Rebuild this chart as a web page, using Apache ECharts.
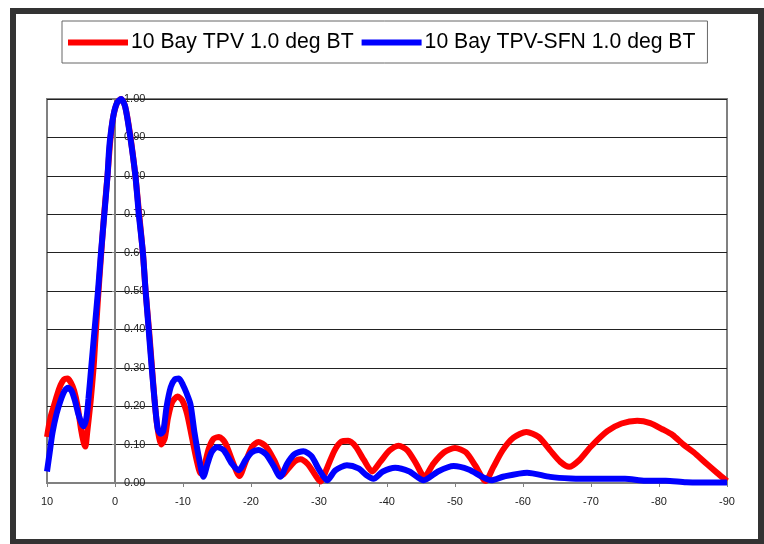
<!DOCTYPE html>
<html>
<head>
<meta charset="utf-8">
<script src="https://cdn.jsdelivr.net/npm/echarts@6/dist/echarts.min.js"></script>
<style>
html,body{margin:0;padding:0;background:#fff;}
#frame{position:absolute;left:10px;top:8px;width:754px;height:536px;box-sizing:border-box;border-style:solid;border-color:#333;border-width:6px 6px 5px 6px;pointer-events:none;z-index:2;}
#chart{position:absolute;left:0;top:0;width:764px;height:544px;}
</style>
</head>
<body>
<div id="chart"></div>
<div id="frame"></div>
<script>
// Angles (deg) and normalized response
const seriesNames = ['10 Bay TPV 1.0 deg BT', '10 Bay TPV-SFN 1.0 deg BT'];
const xTicks = [10, 0, -10, -20, -30, -40, -50, -60, -70, -80, -90];

const redX = [10, 9.5, 9, 8.5, 8, 7.5, 7, 6.5, 6, 5.5, 5, 4.6, 4.35, 4.1, 3.6, 3.15, 2.9, 2.5, 2.1, 1.6, 1.1, 0.7, 0.3, -0.3, -0.9, -1.5, -2.2, -3.0, -3.5, -4.1, -4.5, -5.0, -5.4, -5.8, -6.2, -6.8, -7.3, -7.8, -8.4, -9.2, -9.9, -10.6, -11.3, -12.0, -12.6, -13.2, -13.8, -14.5, -15.3, -16.2, -17.2, -18.3, -19.3, -20.2, -21.1, -22.2, -23.4, -24.6, -25.6, -26.5, -27.3, -28.3, -29.3, -30.2, -31.2, -32.3, -33.3, -34.3, -35.4, -36.6, -37.8, -39.0, -40.4, -41.7, -43.0, -44.3, -45.5, -46.8, -48.4, -50.0, -51.6, -53.0, -54.5, -55.6, -57.0, -58.6, -60.5, -62.3, -64.0, -65.5, -66.8, -68.3, -70.0, -72.4, -74.5, -76.8, -78.7, -80.5, -82.0, -83.6, -85.1, -87.0, -88.5, -90];
const redY = [0.12, 0.17, 0.20, 0.23, 0.255, 0.27, 0.272, 0.262, 0.24, 0.20, 0.14, 0.105, 0.095, 0.13, 0.21, 0.30, 0.37, 0.48, 0.58, 0.70, 0.80, 0.89, 0.95, 0.99, 1.00, 0.98, 0.91, 0.80, 0.71, 0.60, 0.50, 0.40, 0.31, 0.22, 0.15, 0.10, 0.115, 0.17, 0.21, 0.225, 0.215, 0.18, 0.12, 0.06, 0.025, 0.05, 0.09, 0.115, 0.12, 0.105, 0.06, 0.018, 0.06, 0.095, 0.107, 0.095, 0.06, 0.02, 0.04, 0.057, 0.062, 0.05, 0.025, 0.004, 0.04, 0.085, 0.108, 0.11, 0.095, 0.06, 0.03, 0.055, 0.085, 0.097, 0.085, 0.05, 0.016, 0.05, 0.08, 0.091, 0.08, 0.045, 0.005, 0.04, 0.085, 0.118, 0.133, 0.12, 0.085, 0.055, 0.042, 0.06, 0.095, 0.135, 0.155, 0.162, 0.156, 0.14, 0.125, 0.10, 0.08, 0.05, 0.027, 0.005];

const blueX = [10, 9.6, 9.2, 8.6, 8.0, 7.4, 6.9, 6.4, 5.9, 5.4, 4.9, 4.6, 4.2, 3.9, 3.5, 3.1, 2.5, 2.06, 1.57, 1.1, 0.9, 0.7, 0.2, -0.3, -0.9, -1.5, -2.25, -3.0, -3.5, -4.1, -4.5, -4.95, -5.4, -5.9, -6.3, -6.7, -7.1, -7.6, -8.2, -8.8, -9.4, -10.0, -10.5, -11.1, -11.7, -12.4, -13.0, -13.6, -14.2, -15.0, -16.0, -17.2, -18.2, -19.2, -20.1, -21.1, -22.2, -23.3, -24.3, -25.3, -26.4, -27.7, -28.9, -30.0, -31.2, -32.4, -34.1, -35.8, -37.0, -38.0, -39.4, -41.2, -43.3, -45.4, -47.5, -49.8, -52.0, -54.0, -55.3, -57.2, -60.6, -64.0, -67.0, -71.0, -75.0, -78.0, -81.0, -84.0, -90];
const blueY = [0.03, 0.08, 0.13, 0.18, 0.215, 0.24, 0.248, 0.24, 0.215, 0.18, 0.155, 0.148, 0.17, 0.22, 0.30, 0.38, 0.50, 0.60, 0.70, 0.80, 0.86, 0.90, 0.96, 0.99, 1.00, 0.98, 0.90, 0.80, 0.70, 0.60, 0.50, 0.40, 0.30, 0.20, 0.14, 0.128, 0.135, 0.20, 0.25, 0.27, 0.272, 0.255, 0.235, 0.205, 0.13, 0.06, 0.016, 0.05, 0.08, 0.094, 0.085, 0.05, 0.033, 0.06, 0.08, 0.086, 0.075, 0.045, 0.016, 0.05, 0.075, 0.083, 0.07, 0.035, 0.007, 0.033, 0.046, 0.038, 0.02, 0.011, 0.03, 0.04, 0.03, 0.007, 0.03, 0.044, 0.035, 0.016, 0.007, 0.017, 0.027, 0.016, 0.012, 0.011, 0.011, 0.006, 0.006, 0.002, 0.001];

const zip = (xs, ys) => xs.map((x, i) => [x, ys[i]]);

const chart = echarts.init(document.getElementById('chart'), null, {renderer: 'canvas'});
const font = '"Liberation Sans", Arial, sans-serif';
const gridLeft = 47, gridRight = 37, chartW = 764;
const plotW = chartW - gridLeft - gridRight;
// y axis sits at x = 0 (10 deg from left edge of a 100-deg span)
const yAxisShift = plotW * 10 / 100;
chart.setOption({
  animation: false,
  backgroundColor: '#fff',
  textStyle: {fontFamily: font},
  legend: {
    left: 62, top: 21,
    padding: [11, 12, 10, 6],
    itemGap: 8,
    itemWidth: 60, itemHeight: 6,
    icon: 'rect',
    borderColor: '#666', borderWidth: 1,
    textStyle: {fontSize: 21.2, color: '#000', fontFamily: font, padding: [0, 0, 0, -2]},
    data: seriesNames
  },
  grid: {
    left: gridLeft, right: gridRight, top: 99, bottom: 61,
    show: true, borderColor: '#808080', borderWidth: 2
  },
  xAxis: {
    type: 'value', inverse: true, min: -90, max: 10, interval: 10,
    axisLine: {onZero: false, lineStyle: {color: '#808080', width: 2}},
    axisTick: {show: true, length: 4, lineStyle: {color: '#808080'}},
    axisLabel: {fontSize: 11, color: '#222', margin: 13},
    splitLine: {show: false}
  },
  yAxis: {
    type: 'value', min: 0, max: 1, interval: 0.1,
    position: 'left',
    offset: -yAxisShift,
    axisLine: {show: true, onZero: false, lineStyle: {color: '#808080', width: 2}},
    axisTick: {show: true, length: 3, lineStyle: {color: '#808080'}},
    axisLabel: {inside: true, fontSize: 11, color: '#222', margin: 9,
      formatter: v => v.toFixed(2)},
    splitLine: {show: true, lineStyle: {color: '#222', width: 1}}
  },
  series: [
    {
      name: seriesNames[0], type: 'line', data: zip(redX, redY),
      showSymbol: false, smooth: 0.25,
      lineStyle: {color: '#ff0000', width: 6},
      itemStyle: {color: '#ff0000'}, z: 2
    },
    {
      name: seriesNames[1], type: 'line', data: zip(blueX, blueY),
      showSymbol: false, smooth: 0.25,
      lineStyle: {color: '#0000ff', width: 6},
      itemStyle: {color: '#0000ff'}, z: 3
    }
  ]
});
</script>
</body>
</html>
